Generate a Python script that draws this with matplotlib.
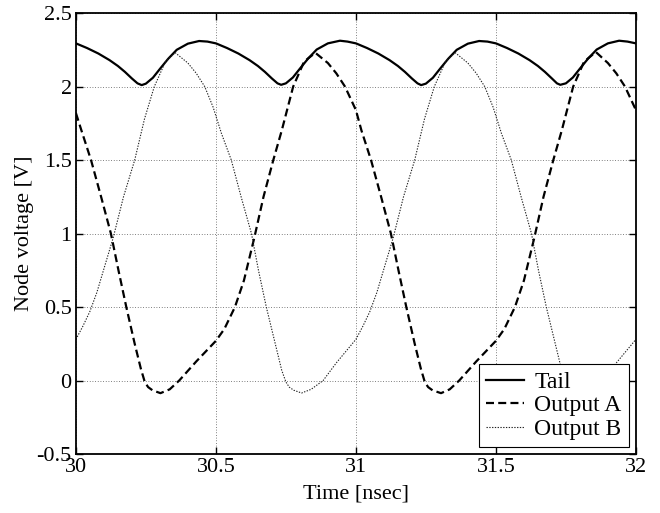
import matplotlib
matplotlib.use("Agg")
import matplotlib.pyplot as plt

# ---------------- data ----------------
t_tail = [30.000, 30.040, 30.080, 30.120, 30.150, 30.175, 30.200, 30.220, 30.235, 30.250,
          30.275, 30.300, 30.330, 30.360, 30.400, 30.440, 30.470,
          30.500, 30.540, 30.580, 30.620, 30.650, 30.675, 30.700, 30.720, 30.733, 30.750,
          30.775, 30.800, 30.830, 30.860, 30.900, 30.943, 30.970,
          31.000, 31.040, 31.080, 31.120, 31.150, 31.175, 31.200, 31.220, 31.233, 31.250,
          31.275, 31.300, 31.330, 31.360, 31.400, 31.440, 31.470,
          31.500, 31.540, 31.580, 31.620, 31.650, 31.675, 31.700, 31.718, 31.730, 31.750,
          31.775, 31.800, 31.830, 31.860, 31.900, 31.940, 31.970, 32.000]
v_tail = [2.294, 2.262, 2.225, 2.180, 2.140, 2.100, 2.055, 2.022, 2.010, 2.020,
          2.060, 2.120, 2.190, 2.250, 2.292, 2.310, 2.306,
          2.294, 2.262, 2.225, 2.180, 2.140, 2.100, 2.055, 2.022, 2.012, 2.022,
          2.062, 2.122, 2.192, 2.252, 2.294, 2.312, 2.306,
          2.294, 2.262, 2.225, 2.180, 2.140, 2.100, 2.055, 2.022, 2.010, 2.020,
          2.060, 2.120, 2.190, 2.250, 2.292, 2.310, 2.306,
          2.294, 2.262, 2.225, 2.180, 2.140, 2.100, 2.055, 2.022, 2.012, 2.022,
          2.062, 2.122, 2.192, 2.252, 2.294, 2.312, 2.306, 2.294]

t_a = [30.000, 30.020, 30.054, 30.090, 30.125, 30.152, 30.180, 30.210, 30.232, 30.246,
       30.258, 30.274, 30.302, 30.335, 30.369, 30.430, 30.500, 30.530, 30.568, 30.600,
       30.637, 30.670, 30.705, 30.735, 30.776, 30.815, 30.855, 30.900, 30.930, 30.961,
       31.000, 31.020, 31.054, 31.090, 31.125, 31.152, 31.180, 31.210, 31.232, 31.246,
       31.258, 31.274, 31.304, 31.335, 31.369, 31.430, 31.500, 31.530, 31.568, 31.600,
       31.637, 31.670, 31.705, 31.735, 31.776, 31.815, 31.857, 31.900, 31.930, 31.961, 32.000]
v_a = [1.82, 1.70, 1.50, 1.25, 1.00, 0.75, 0.50, 0.25, 0.08, -0.01,
       -0.045, -0.067, -0.086, -0.06, 0.00, 0.13, 0.27, 0.35, 0.50, 0.68,
       0.97, 1.25, 1.50, 1.70, 2.00, 2.17, 2.23, 2.16, 2.09, 2.00,
       1.84, 1.70, 1.50, 1.25, 1.00, 0.75, 0.50, 0.25, 0.08, -0.01,
       -0.045, -0.067, -0.086, -0.06, 0.00, 0.13, 0.27, 0.35, 0.50, 0.68,
       0.97, 1.25, 1.50, 1.70, 2.00, 2.17, 2.235, 2.16, 2.09, 2.00, 1.84]

t_b = [30.000, 30.025, 30.050, 30.075, 30.100, 30.133, 30.170, 30.210, 30.245, 30.280, 30.320,
       30.355, 30.400, 30.430, 30.460, 30.490, 30.520, 30.555, 30.590, 30.627, 30.652,
       30.680, 30.712, 30.735, 30.750, 30.762, 30.778, 30.806, 30.840, 30.883, 30.930, 30.965,
       31.000, 31.025, 31.050, 31.075, 31.100, 31.133, 31.170, 31.210, 31.245, 31.280, 31.320,
       31.355, 31.400, 31.430, 31.460, 31.490, 31.520, 31.555, 31.590, 31.627, 31.652,
       31.680, 31.712, 31.735, 31.750, 31.762, 31.778, 31.806, 31.840, 31.883, 31.930, 31.965, 32.000]
v_b = [0.28, 0.37, 0.47, 0.60, 0.76, 0.97, 1.25, 1.50, 1.78, 2.00, 2.17,
       2.23, 2.16, 2.09, 2.00, 1.86, 1.68, 1.50, 1.25, 1.00, 0.75,
       0.50, 0.25, 0.07, -0.01, -0.045, -0.066, -0.085, -0.06, 0.00, 0.12, 0.20,
       0.28, 0.37, 0.47, 0.60, 0.76, 0.97, 1.25, 1.50, 1.78, 2.00, 2.17,
       2.23, 2.16, 2.09, 2.00, 1.86, 1.68, 1.50, 1.25, 1.00, 0.75,
       0.50, 0.25, 0.07, -0.01, -0.045, -0.066, -0.085, -0.06, 0.00, 0.12, 0.20, 0.28]

labels = ["Tail", "Output A", "Output B"]
x_ticks = [30, 30.5, 31, 31.5, 32]
x_ticklabels = ["30", "30.5", "31", "31.5", "32"]
y_ticks = [-0.5, 0, 0.5, 1, 1.5, 2, 2.5]
y_ticklabels = ["-0.5", "0", "0.5", "1", "1.5", "2", "2.5"]

# ---------------- figure ----------------
plt.rcParams['font.family'] = ['Liberation Serif', 'DejaVu Serif']
plt.rcParams['axes.unicode_minus'] = False

fig = plt.figure(figsize=(6.6, 5.13), dpi=100)
ax = fig.add_axes([0.115, 0.115, 0.8485, 0.8595])

ax.plot(t_tail, v_tail, color='black', lw=1.6, solid_joinstyle='round', label=labels[0])
ax.plot(t_a, v_a, color='black', lw=1.6, dashes=(3.6, 1.9), label=labels[1])
ax.plot(t_b, v_b, color='#222222', lw=0.8, dashes=(1.2, 1.3), label=labels[2])

ax.set_xlim(30, 32)
ax.set_ylim(-0.5, 2.5)
ax.set_xticks(x_ticks)
ax.set_xticklabels(x_ticklabels)
ax.set_yticks(y_ticks)
ax.set_yticklabels(y_ticklabels)

ax.grid(True, color='#555555', lw=0.6, dashes=(1, 2.2))
ax.set_axisbelow(True)
ax.tick_params(direction='in', top=True, right=True, length=5, width=1.0,
               labelsize=16, pad=3)
for s in ax.spines.values():
    s.set_linewidth(1.3)

ax.set_xlabel("Time [nsec]", fontsize=16, labelpad=5)
ax.set_ylabel("Node voltage [V]", fontsize=16, labelpad=2)

leg = ax.legend(loc='lower right', fontsize=17, fancybox=False, framealpha=1,
                edgecolor='black', borderpad=0.3, handlelength=1.6,
                handletextpad=0.45, labelspacing=0.08, borderaxespad=0.3)
leg.get_frame().set_linewidth(0.8)

fig.savefig("out.png", dpi=100)
